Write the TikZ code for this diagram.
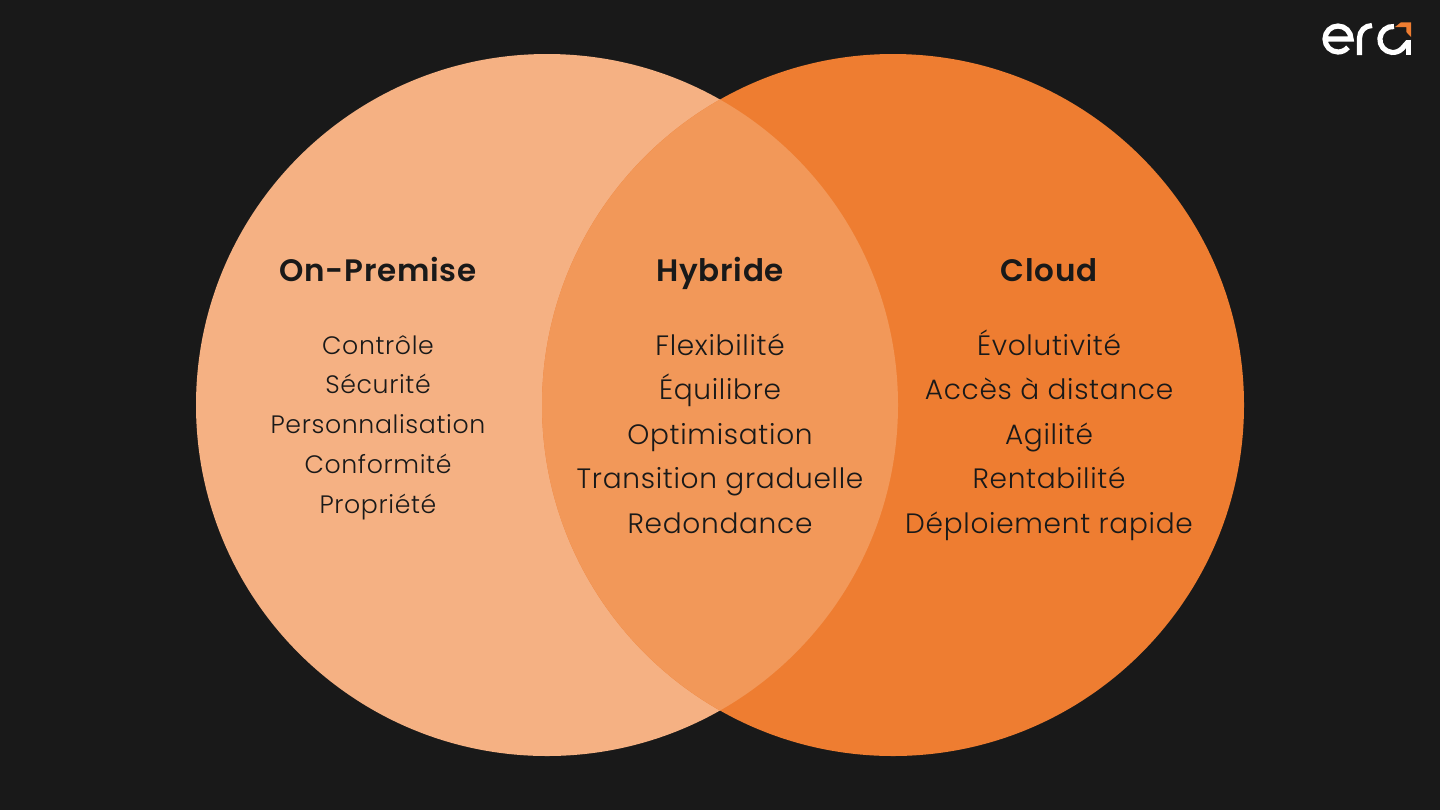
\documentclass[tikz,border=0pt]{standalone}
\usepackage{fontspec}
\setmainfont{Poppins}[UprightFont={* Light},BoldFont={* SemiBold},LetterSpace=2.5]
\usetikzlibrary{positioning}
\definecolor{bgdark}{HTML}{191919}
\definecolor{onpremfill}{HTML}{F5B183}
\definecolor{cloudfill}{HTML}{EE7D31}
\definecolor{hybridfill}{HTML}{F29859}
\begin{document}
\begin{tikzpicture}[x=0.5pt,y=-0.5pt,
			title/.style={anchor=base,text=bgdark,inner sep=0pt,font=\fontsize{15.5}{18}\selectfont\bfseries},
			item/.style={anchor=base,text=bgdark,inner sep=0pt},
			logostroke/.style={draw=white,line width=2.6pt}]
			\fill[bgdark] (0,0) rectangle (1440,810);
			\fill[onpremfill] (547,405) circle[radius=351];
			\fill[cloudfill] (893,405) circle[radius=351];
			\begin{scope}
				\clip (547,405) circle[radius=351];
				\fill[hybridfill] (893,405) circle[radius=351];
			\end{scope}
			% titres
			\node[title] (onprem) at (378,281) {On-Premise};
			\node[title] (hybrid) at (720,281) {Hybride};
			\node[title] (cloud) at (1049,281) {Cloud};
			% listes
			\foreach \txt [count=\i] in {Contrôle,Sécurité,Personnalisation,Conformité,Propriété}
				\node[item,font=\fontsize{12.6}{15}\selectfont] (onprem\i) at (378,{354+(\i-1)*39.8}) {\txt};
			\foreach \txt [count=\i] in {Flexibilité,Équilibre,Optimisation,Transition graduelle,Redondance}
				\node[item,font=\fontsize{14}{16}\selectfont] (hybrid\i) at (720,{355.5+(\i-1)*44.4}) {\txt};
			\foreach \txt [count=\i] in {Évolutivité,Accès à distance,Agilité,Rentabilité,Déploiement rapide}
				\node[item,font=\fontsize{14}{16}\selectfont] (cloud\i) at (1049,{355.5+(\i-1)*44.4}) {\txt};
			% logo
			\draw[logostroke] (1326,39) -- (1351,39) arc[start angle=0,end angle=-320,radius=13];
			\draw[logostroke] (1359.5,55) -- (1359.5,38) arc[start angle=180,end angle=270,radius=12.5];
			\draw[logostroke] (1394,26.5) arc[start angle=-85,end angle=-315,radius=13] -- (1408,42);
			\draw[logostroke] (1408.5,39.5) -- (1408.5,55);
			\fill[cloudfill] (1395,27) -- (1401,22.3) -- (1411,22.3) -- (1411,37) -- (1406.3,32) -- (1406.3,27) -- cycle;
		\end{tikzpicture}
\end{document}
